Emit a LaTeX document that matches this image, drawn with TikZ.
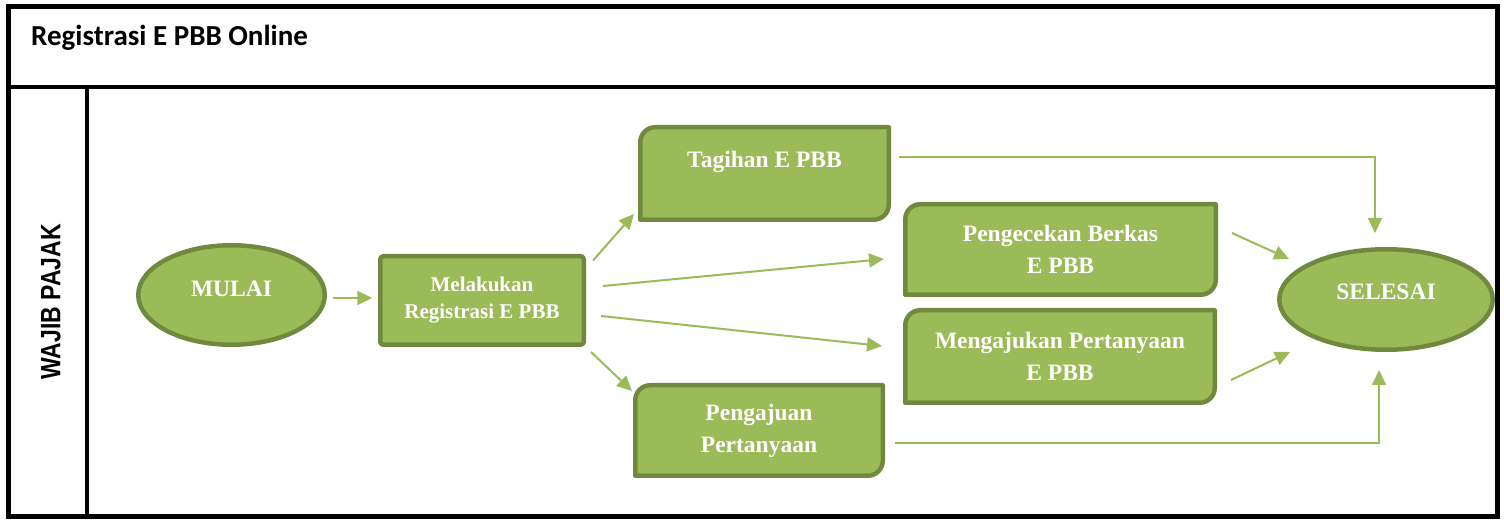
\documentclass[tikz,border=0pt]{standalone}
\usepackage{fontspec}
\setmainfont{Liberation Serif}
\newfontfamily\titlefont{Carlito}
\newfontfamily\lanefont[FakeStretch=0.82]{Liberation Sans}
\usetikzlibrary{arrows.meta,calc,shapes.geometric,backgrounds}
\definecolor{gfill}{HTML}{9BBB59}
\definecolor{gline}{HTML}{71893F}
\newcommand\gshape[2]{%
  \draw[outline] (#1.south west) -- ([yshift=-#2]#1.north west)
    arc[start angle=180,end angle=90,radius=#2] -- (#1.north east)
    -- ([yshift=#2]#1.south east)
    arc[start angle=0,end angle=-90,radius=#2] -- cycle;}
\begin{document}
\begin{tikzpicture}[x=1pt,y=1pt,
  box/.style={rectangle, inner sep=0pt, outer sep=0pt, text=white,
    font=\bfseries\fontsize{23.5}{32}\selectfont, align=center},
  oval/.style={ellipse, draw=gline, fill=gfill, line width=4.5pt,
    inner sep=0pt, outer sep=0pt, text=white,
    font=\bfseries\fontsize{23.5}{32}\selectfont},
  outline/.style={draw=gline, fill=gfill, line width=4.5pt, line join=round},
  arr/.style={draw=gfill, line width=2pt, -{Triangle[length=15pt,width=14pt]}},
  frame/.style={draw=black, line width=5pt},
  inner/.style={draw=black, line width=4pt}
]
\useasboundingbox (0,0) rectangle (1504,521);
% frame
\draw[frame] (8,4) rectangle (1497,514.5);
\draw[inner] (8,434) -- (1497,434);
\draw[inner] (86.5,434) -- (86.5,4);
\node[anchor=base west, inner sep=0pt, font=\titlefont\bfseries\fontsize{29}{34}\selectfont] (title) at (31,475.5) {Registrasi E PBB Online};
\node[rotate=90, font=\lanefont\bfseries\fontsize{28}{32}\selectfont] (lane) at (51,219) {WAJIB PAJAK};

% nodes
\node[oval, minimum width=186.5pt, minimum height=99.5pt, text depth=13pt] (mulai) at (231.5,226) {MULAI};
\node[box, minimum width=203.5pt, minimum height=88.5pt, font=\bfseries\fontsize{21}{27}\selectfont] (reg) at (482,220.5) {Melakukan\\Registrasi E PBB};
\node[box, minimum width=248.5pt, minimum height=92.5pt, text height=16pt, text depth=27.4pt] (tag) at (764.5,347.5) {Tagihan E PBB};
\node[box, minimum width=310.5pt, minimum height=90.5pt] (cek) at (1060.5,271.5) {Pengecekan Berkas\\E PBB};
\node[box, minimum width=309.5pt, minimum height=92.5pt] (aju) at (1060,164.5) {Mengajukan Pertanyaan\\E PBB};
\node[box, minimum width=247.5pt, minimum height=90.5pt] (tanya) at (759,90.5) {Pengajuan\\Pertanyaan};
\node[oval, minimum width=213.5pt, minimum height=100.5pt, text depth=15pt] (selesai) at (1386,221.5) {SELESAI};

\begin{scope}[on background layer]
  \draw[outline, rounded corners=3pt] (reg.south west) rectangle (reg.north east);
  \gshape{tag}{15}
  \gshape{cek}{15}
  \gshape{aju}{15}
  \gshape{tanya}{15}
\end{scope}

% connectors
\draw[arr] ($(mulai.east)+(8,-3)$) -- ($(reg.west)+(-8,2.5)$);
\draw[arr] ($(reg.north east)+(9.25,-4.25)$) -- ($(tag.south west)+(-6.25,5.75)$);
\draw[arr] ($(reg.east)+(19.25,14.5)$) -- ($(cek.west)+(-21.25,-9.5)$);
\draw[arr] ($(reg.east)+(17.25,-15.5)$) -- ($(aju.west)+(-23.25,10.5)$);
\draw[arr] ($(reg.south east)+(7.25,-7.25)$) -- ($(tanya.north west)+(-3.25,-5.75)$);
\draw[arr] ($(tag.east)+(10.25,16.5)$) -| ($(selesai.north)+(-11,16.25)$);
\draw[arr] ($(cek.east)+(16.25,16.5)$) -- ($(selesai.west)+(9.75,40.5)$);
\draw[arr] ($(aju.east)+(16.25,-23.5)$) -- ($(selesai.west)+(10.75,-52.5)$);
\draw[arr] ($(tanya.east)+(12.25,-12.5)$) -| ($(selesai.south)+(-7,-20.25)$);
\end{tikzpicture}
\end{document}
